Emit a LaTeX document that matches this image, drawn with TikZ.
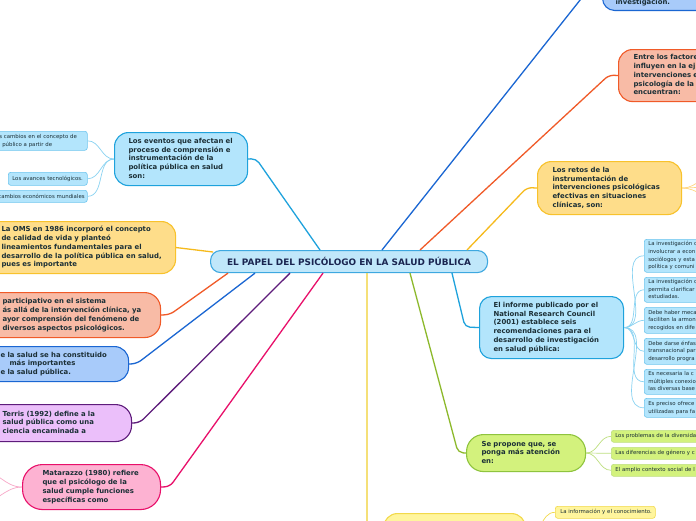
\documentclass[tikz,border=0pt]{standalone}
\usepackage{fontspec}
\setmainfont{DejaVu Sans}
\definecolor{txt}{HTML}{1B2F36}
\definecolor{titc}{HTML}{1A2550}
\definecolor{cyb}{HTML}{1EA2DC}
\definecolor{cyf}{HTML}{B3E5FC}
\definecolor{cysb}{HTML}{6EC6EE}
\definecolor{cyl}{HTML}{8AD3F2}
\definecolor{cenf}{HTML}{C0E7FA}
\definecolor{cenb}{HTML}{3EA8E0}
\definecolor{yeb}{HTML}{F8C22C}
\definecolor{yef}{HTML}{FEDD8A}
\definecolor{yec}{HTML}{F6BA1C}
\definecolor{yel}{HTML}{FFD780}
\definecolor{sab}{HTML}{F05A28}
\definecolor{saf}{HTML}{F8BBA6}
\definecolor{blb}{HTML}{1A66D2}
\definecolor{blf}{HTML}{A8CBFA}
\definecolor{pub}{HTML}{5E1C7B}
\definecolor{puf}{HTML}{EBBFFA}
\definecolor{pkb}{HTML}{E8106A}
\definecolor{pkf}{HTML}{FDB2D2}
\definecolor{pkl}{HTML}{F8A8C8}
\definecolor{grb}{HTML}{8FC43E}
\definecolor{grf}{HTML}{D3F27D}
\definecolor{grc}{HTML}{8DB92C}
\definecolor{grl}{HTML}{BEDF80}
\definecolor{lyb}{HTML}{F2D94A}
\definecolor{lyf}{HTML}{FFF59D}
\definecolor{lyc}{HTML}{F0D030}
\newcommand{\txtlines}[1]{\begin{tabular}{@{}l@{}}#1\end{tabular}}
\tikzset{
  mnode/.style={draw, line width=1.1pt, rounded corners=14pt, anchor=north west, align=left,
    font=\fontsize{6.9}{8.8}\selectfont\bfseries, text=txt, inner ysep=2pt},
  snode/.style={draw=cysb, fill=cyf, line width=0.6pt, rounded corners=2.5pt, anchor=north west, align=left,
    font=\fontsize{5.4}{7.6}\selectfont, text=txt, inner ysep=1pt},
  conn/.style={line width=1.3pt, rounded corners=5pt},
  sconn/.style={line width=0.7pt},
}
\begin{document}
\begin{tikzpicture}[x=1pt,y=-1pt]
\useasboundingbox (0,0) rectangle (696,520);
\fill[white] (0,0) rectangle (696,520);
\clip (0,0) rectangle (696,520);

% central
\node[draw=cenb, fill=cenf, line width=1.1pt, rounded corners=10pt, minimum width=277pt, minimum height=22pt,
  anchor=north west, font=\fontsize{8.9}{10}\selectfont\bfseries, text=titc, inner sep=0pt] (c) at (210,250)
  {EL PAPEL DEL PSICÓLOGO EN LA SALUD PÚBLICA};

% left main nodes
\node[mnode, draw=cyb, fill=cyf, minimum width=133pt, minimum height=53pt, text width=105pt, inner xsep=14pt] (ev) at (114,132)
  {\txtlines{Los eventos que afectan el\\proceso de comprensión e\\instrumentación de la\\política pública en salud\\son:}};
\node[mnode, draw=yeb, fill=yef, minimum width=205pt, minimum height=52pt, text width=143pt, inner xsep=31pt] (oms) at (-30,221)
  {\txtlines{La OMS en 1986 incorporó el concepto\\de calidad de vida y planteó\\lineamientos fundamentales para el\\desarrollo de la política pública en salud,\\pues es importante}};
\node[mnode, draw=sab, fill=saf, rounded corners=16pt, minimum width=190pt, minimum height=45pt, text width=126pt, inner xsep=32pt] (sal) at (-30,292)
  {\txtlines{participativo en el sistema\\ás allá de la intervención clínica, ya\\ayor comprensión del fenómeno de\\diversos aspectos psicológicos.}};
\node[mnode, draw=blb, fill=blf, minimum width=158pt, minimum height=35pt, text width=98pt, inner xsep=30pt] (bl) at (-30,346)
  {\txtlines{e la salud se ha constituido\\\hspace*{9pt}más importantes\\e la salud pública.}};
\node[mnode, draw=pub, fill=puf, rounded corners=16pt, minimum width=161pt, minimum height=37pt, text width=97pt, inner xsep=32pt] (pu) at (-30,404)
  {\txtlines{Terris (1992) define a la\\salud pública como una\\ciencia encaminada a}};
\node[mnode, draw=pkb, fill=pkf, rounded corners=20pt, minimum width=138pt, minimum height=45pt, text width=98pt, inner xsep=20pt] (pk) at (22,464)
  {\txtlines{Matarazzo (1980) refiere\\que el psicólogo de la\\salud cumple funciones\\específicas como}};

% left small nodes
\node[snode, minimum width=127pt, minimum height=19pt, text width=49pt, inner xsep=39pt] (ev1) at (-40,131)
  {\txtlines{s cambios en el concepto de\\\hspace*{3pt}público a partir de}};
\node[snode, minimum width=79pt, minimum height=13pt, text width=71pt, inner xsep=4pt] (ev2) at (8,172)
  {\mbox{Los avances tecnológicos.}};
\node[snode, minimum width=127pt, minimum height=12pt, text width=51pt, inner xsep=38pt] (ev3) at (-40,190)
  {\mbox{cambios económicos mundiales}};

% right main nodes
\node[mnode, draw=blb, fill=blf, rounded corners=12pt, anchor=south west, minimum width=150pt, text width=124pt, inner xsep=13pt, inner ysep=4pt] (tb) at (602,11)
  {\rule{0pt}{45pt}investigación.};
\node[mnode, draw=sab, fill=saf, minimum width=150pt, minimum height=52pt, text width=120pt, inner xsep=15pt] (fa) at (618,49)
  {\txtlines{Entre los factores\\influyen en la ej\\intervenciones e\\psicología de la\\encuentran:}};
\node[mnode, draw=yeb, fill=yef, minimum width=144pt, minimum height=53pt, text width=114pt, inner xsep=15pt] (re) at (537,161)
  {\txtlines{Los retos de la\\instrumentación de\\intervenciones psicológicas\\efectivas en situaciones\\clínicas, son:}};
\node[mnode, draw=cyb, fill=cyf, rounded corners=12pt, minimum width=144pt, minimum height=62pt, text width=116pt, inner xsep=14pt] (inf) at (479,296)
  {\txtlines{El informe publicado por el\\National Research Council\\(2001) establece seis\\recomendaciones para el\\desarrollo de investigación\\en salud pública:}};
\node[mnode, draw=grb, fill=grf, rounded corners=17pt, minimum width=119pt, minimum height=37pt, text width=89pt, inner xsep=15pt] (gr) at (466,434)
  {\txtlines{Se propone que, se\\ponga más atención\\en:}};
\node[mnode, draw=lyb, fill=lyf, minimum width=142pt, minimum height=50pt, text width=114pt, inner xsep=14pt] (yb) at (383,513) {};

% right small nodes
\node[snode, minimum width=120pt, minimum height=33pt, text width=112pt, inner xsep=4pt] (rn1) at (644,239)
  {\txtlines{La investigación c\\involucrar a econ\\sociólogos y esta\\política y comuni}};
\node[snode, minimum width=120pt, minimum height=25pt, text width=112pt, inner xsep=4pt] (rn2) at (644,277)
  {\txtlines{La investigación c\\permita clarificar\\estudiadas.}};
\node[snode, minimum width=120pt, minimum height=26pt, text width=112pt, inner xsep=4pt] (rn3) at (644,307)
  {\txtlines{Debe haber meca\\faciliten la armon\\recogidos en dife}};
\node[snode, minimum width=120pt, minimum height=26pt, text width=112pt, inner xsep=4pt] (rn4) at (644,338)
  {\txtlines{Debe darse énfas\\transnacional par\\desarrollo progra}};
\node[snode, minimum width=120pt, minimum height=25pt, text width=112pt, inner xsep=4pt] (rn5) at (644,369)
  {\txtlines{Es necesaria la c\\múltiples conexio\\las diversas base}};
\node[snode, minimum width=120pt, minimum height=19pt, text width=112pt, inner xsep=4pt] (rn6) at (644,398)
  {\txtlines{Es preciso ofrece\\utilizadas para fa}};

\node[snode, draw=grl, fill=grf, minimum width=120pt, minimum height=12pt, text width=112pt, inner xsep=4pt] (gn1) at (611,430)
  {\mbox{Los problemas de la diversida}};
\node[snode, draw=grl, fill=grf, minimum width=120pt, minimum height=12pt, text width=112pt, inner xsep=4pt] (gn2) at (611,447)
  {\mbox{Las diferencias de género y c}};
\node[snode, draw=grl, fill=grf, minimum width=120pt, minimum height=12pt, text width=112pt, inner xsep=4pt] (gn3) at (611,464)
  {\mbox{El amplio contexto social de l}};

\node[snode, draw=lyb, fill=lyf, minimum width=100pt, minimum height=12pt, text width=90pt, inner xsep=5pt] (yi) at (555,506)
  {\mbox{La información y el conocimiento.}};

% free ends
\coordinate (pkA) at (-20,470);
\coordinate (pkB) at (-20,503);
\coordinate (reA) at (720,172);
\coordinate (reB) at (720,186);
\coordinate (reC) at (720,200);

% main connectors
\draw[conn, cyb] ([xshift=110pt]c.north west) -- (256,158.5) -- (ev.east);
\draw[conn, yec] ([xshift=3pt,yshift=-2pt]c.north west) -- (oms.east);
\draw[conn, sab] ([xshift=18pt]c.south west) -- (170,314.5) -- (sal.east);
\draw[conn, blb] ([xshift=45pt]c.south west) -- (137,363.5) -- (bl.east);
\draw[conn, pub] ([xshift=80pt]c.south west) -- (140,422.5) -- (pu.east);
\draw[conn, pkb] ([xshift=113pt]c.south west) -- (170,486.5) -- (pk.east);
\draw[conn, blb] ([xshift=172pt]c.north west) -- (590,-12.5) -- (tb.west);
\draw[conn, sab] ([xshift=210pt]c.north west) -- (609,75) -- (fa.west);
\draw[conn, yec] ([xshift=257pt]c.north west) -- (527,187.5) -- (re.west);
\draw[conn, cyb] ([xshift=242pt]c.south west) -- (465,327) -- (inf.west);
\draw[conn, grc] ([xshift=200pt]c.south west) -- (458,452.5) -- (gr.west);
\draw[conn, lyc] ([xshift=157pt]c.south west) -- (367,538) -- (yb.west);

% small connectors
\foreach \t in {ev1,ev2,ev3}{\draw[sconn, cyl] (ev.west) to[out=180,in=0] (\t.east);}
\foreach \t in {rn1,rn2,rn3,rn4,rn5,rn6}{\draw[sconn, cyl] (inf.east) to[out=0,in=180] (\t.west);}
\foreach \t in {gn1,gn2,gn3}{\draw[sconn, grl] (gr.east) to[out=0,in=180] (\t.west);}
\foreach \t in {pkA,pkB}{\draw[sconn, pkl] (pk.west) to[out=180,in=0] (\t);}
\foreach \t in {reA,reB,reC}{\draw[sconn, yel] (re.east) to[out=0,in=180] (\t);}
\draw[sconn, lyb] (yb.east) to[out=0,in=180] (yi.west);
\end{tikzpicture}
\end{document}
